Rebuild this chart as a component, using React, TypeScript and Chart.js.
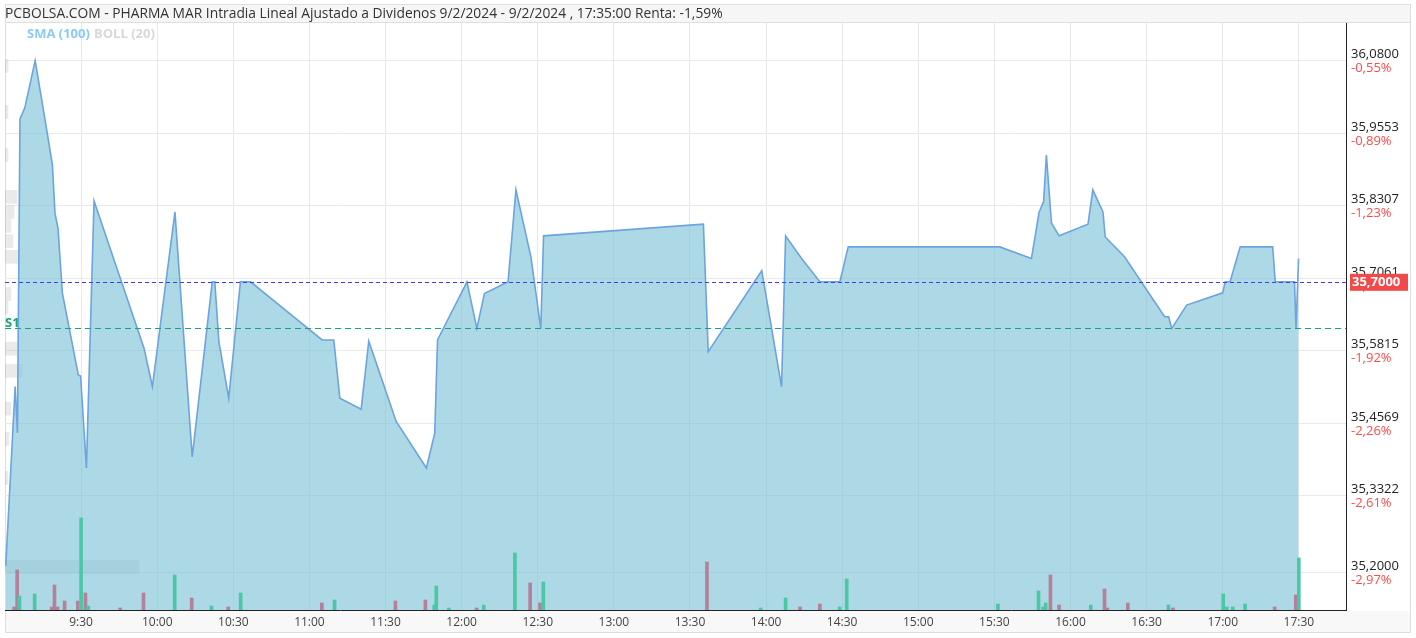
import React, { useEffect, useRef } from 'react';
import { Chart, registerables } from 'chart.js';

Chart.register(...registerables);

const FONT = '"Open Sans", sans-serif';

const titleText =
  'PCBOLSA.COM - PHARMA MAR Intradia Lineal Ajustado a Dividenos 9/2/2024 - 9/2/2024 , 17:35:00 Renta: -1,59%';
const legendSma = 'SMA (100)';
const legendBoll = 'BOLL (20)';
const supportLabel = 'S1';

// time in minutes since midnight
const priceTimes = [
  540.3, 544.0, 544.9, 545.9, 547.8, 551.9, 555.8, 558.7, 559.7, 560.9,
  562.6, 568.9, 569.8, 572.1, 575.1, 594.8, 598.1, 607.0, 613.8, 621.7,
  622.7, 624.3, 628.2, 632.8, 636.8, 665.0, 669.6, 672.0, 680.4, 683.4,
  694.2, 706.1, 709.4, 710.5, 722.1, 726.0, 729.0, 738.3, 741.4, 747.3,
  751.2, 752.3, 815.3, 817.2, 838.3, 846.1, 847.7, 854.0, 861.2, 869.1,
  872.4, 932.1, 944.6, 947.6, 949.4, 950.5, 952.5, 955.5, 966.9, 968.8,
  972.8, 973.7, 981.3, 997.1, 998.7, 999.9, 1005.8, 1020.0, 1021.0, 1022.9,
  1026.9, 1039.7, 1040.7, 1048.3, 1048.9, 1049.9,
];
const priceValues = [
  35.212, 35.52, 35.44, 35.98, 35.999, 36.08, 35.978, 35.901, 35.818, 35.792,
  35.681, 35.54, 35.538, 35.38, 35.839, 35.586, 35.52, 35.82, 35.399, 35.7,
  35.7, 35.597, 35.5, 35.7, 35.7, 35.6, 35.6, 35.5, 35.481, 35.598,
  35.46, 35.38, 35.44, 35.6, 35.7, 35.62, 35.68, 35.7, 35.858, 35.743,
  35.62, 35.779, 35.799, 35.58, 35.719, 35.52, 35.779, 35.74, 35.7, 35.7,
  35.76, 35.76, 35.74, 35.819, 35.838, 35.918, 35.801, 35.779, 35.799, 35.858,
  35.82, 35.777, 35.743, 35.64, 35.64, 35.62, 35.66, 35.681, 35.7, 35.7,
  35.76, 35.76, 35.7, 35.7, 35.62, 35.74,
];

const volumeTimes = [
  543.6, 544.8, 545.7, 551.7, 558.4, 559.5, 560.7, 563.5, 568.7, 570.0,
  571.7, 572.8, 585.4, 594.6, 606.9, 613.6, 621.4, 628.0, 632.9, 664.9,
  669.9, 693.9, 705.7, 709.2, 710.0, 715.0, 725.9, 728.7, 741.0, 747.0,
  750.9, 752.2, 816.7, 837.9, 847.7, 853.4, 861.2, 869.0, 871.8, 931.4,
  947.4, 949.2, 950.2, 952.1, 955.5, 968.0, 973.4, 974.5, 982.6, 998.6,
  1000.4, 1020.2, 1021.6, 1024.0, 1028.8, 1040.5, 1048.8, 1050.0,
];
const volumeValues = [
  150, 2000, 700, 800, 150, 1250, 150, 450, 450, 4600,
  850, 200, 100, 850, 1750, 600, 200, 150, 850, 350,
  500, 450, 500, 250, 1200, 100, 100, 250, 2850, 1350,
  350, 1400, 2400, 100, 600, 150, 300, 150, 1550, 300,
  950, 150, 350, 1750, 250, 250, 1050, 100, 350, 250,
  100, 800, 150, 150, 300, 150, 750, 2600,
];
const volumeUp = [
  false, false, true, true, false, false, false, false, false, true,
  false, true, false, false, true, false, true, false, true, false,
  true, false, false, true, true, true, false, true, true, false,
  false, true, false, true, true, false, false, true, true, true,
  true, true, true, false, false, true, false, false, false, true,
  false, true, true, true, true, false, false, true,
];

const profilePrices = [
  36.071, 35.992, 35.918, 35.846, 35.82, 35.796, 35.77, 35.743,
  35.679, 35.656, 35.585, 35.547, 35.482, 35.43, 35.363, 35.21,
];
const profileVolumes = [
  300, 300, 300, 1200, 900, 600, 800, 1400,
  600, 300, 1200, 1700, 600, 400, 300, 13400,
];

const xTickTimes = [570, 600, 630, 660, 690, 720, 750, 780, 810, 840, 870, 900, 930, 960, 990, 1020, 1050];
const xTickLabels = ['9:30', '10:00', '10:30', '11:00', '11:30', '12:00', '12:30', '13:00', '13:30', '14:00', '14:30', '15:00', '15:30', '16:00', '16:30', '17:00', '17:30'];
const yTickValues = [36.08, 35.9553, 35.8307, 35.7061, 35.5815, 35.4569, 35.3322, 35.2];
const yTickLabels = ['36,0800', '35,9553', '35,8307', '35,7061', '35,5815', '35,4569', '35,3322', '35,2000'];
const yTickPercents = ['-0,55%', '-0,89%', '-1,23%', '-1,57%', '-1,92%', '-2,26%', '-2,61%', '-2,97%'];

const xMin = 540;
const xMax = 1068.6;
const yMin = 35.1359;
const yMax = 36.1448;

const lastPrice = 35.7;
const lastPriceLabel = '35,7000';
const supportS1 = 35.62;

const overlayPlugin = {
  id: 'overlay',
  beforeDraw(chart: any) {
    const { ctx, width, height, chartArea } = chart;
    ctx.save();
    ctx.fillStyle = '#ffffff';
    ctx.fillRect(0, 0, width, height);
    ctx.fillStyle = '#f6f6f6';
    ctx.fillRect(5, 4, width - 10, chartArea.top - 4);
    ctx.fillStyle = '#f8f8f8';
    ctx.fillRect(5, chartArea.bottom + 1, width - 10, height - chartArea.bottom - 6);
    ctx.strokeStyle = '#dedede';
    ctx.lineWidth = 1;
    ctx.strokeRect(5.5, 4.5, width - 11, height - 10);
    ctx.beginPath();
    ctx.moveTo(5, chartArea.top - 0.5);
    ctx.lineTo(width - 5, chartArea.top - 0.5);
    ctx.stroke();
    ctx.fillStyle = '#333333';
    ctx.font = `13.8px ${FONT}`;
    ctx.textBaseline = 'middle';
    ctx.textAlign = 'left';
    ctx.fillText(titleText, 5, 14);
    ctx.restore();
  },
  afterDatasetsDraw(chart: any) {
    const { ctx, chartArea, scales } = chart;
    const y = scales.y;
    ctx.save();
    const yLast = Math.round(y.getPixelForValue(lastPrice)) + 0.5;
    ctx.strokeStyle = '#3d3df2';
    ctx.lineWidth = 1;
    ctx.setLineDash([4, 3]);
    ctx.beginPath();
    ctx.moveTo(chartArea.left, yLast);
    ctx.lineTo(chartArea.right, yLast);
    ctx.stroke();
    const yS1 = Math.round(y.getPixelForValue(supportS1)) + 0.5;
    ctx.strokeStyle = '#17a57a';
    ctx.setLineDash([6, 4]);
    ctx.beginPath();
    ctx.moveTo(chartArea.left, yS1);
    ctx.lineTo(chartArea.right, yS1);
    ctx.stroke();
    ctx.setLineDash([]);
    ctx.fillStyle = '#17a57a';
    ctx.font = `bold 13px ${FONT}`;
    ctx.textAlign = 'left';
    ctx.textBaseline = 'alphabetic';
    ctx.fillText(supportLabel, chartArea.left, yS1 - 2);
    ctx.font = `bold 13px ${FONT}`;
    ctx.textBaseline = 'middle';
    ctx.fillStyle = '#8ccaf3';
    ctx.fillText(legendSma, 27, 34);
    ctx.fillStyle = '#d8d8d8';
    ctx.fillText(legendBoll, 94, 34);
    ctx.restore();
  },
  afterDraw(chart: any) {
    const { ctx, chartArea, scales } = chart;
    const y = scales.y;
    ctx.save();
    ctx.font = `13px ${FONT}`;
    ctx.fillStyle = '#ff4a4a';
    ctx.textAlign = 'left';
    ctx.textBaseline = 'middle';
    yTickValues.forEach((v, i) => {
      ctx.fillText(yTickPercents[i], chartArea.right + 5, y.getPixelForValue(v) + 8);
    });
    const yLast = y.getPixelForValue(lastPrice);
    ctx.fillStyle = '#f24a4a';
    ctx.fillRect(chartArea.right + 4, yLast - 8, 58, 17);
    ctx.fillStyle = '#ffffff';
    ctx.font = `bold 13px ${FONT}`;
    ctx.fillText(lastPriceLabel, chartArea.right + 6, yLast + 1);
    ctx.restore();
  },
};

export default function App() {
  const ref = useRef<HTMLCanvasElement | null>(null);

  useEffect(() => {
    if (!ref.current) return;
    const maxVol = Math.max(...volumeValues);
    const maxProf = Math.max(...profileVolumes);
    const chart = new Chart(ref.current, {
      type: 'line',
      data: {
        datasets: [
          {
            type: 'bar',
            indexAxis: 'y',
            xAxisID: 'xProf',
            yAxisID: 'y',
            grouped: false,
            data: profilePrices.map((p, i) => ({ x: profileVolumes[i], y: p })),
            backgroundColor: 'rgba(128,128,128,0.17)',
            barThickness: 13,
            order: 3,
          } as any,
          {
            type: 'line',
            xAxisID: 'x',
            yAxisID: 'y',
            data: priceTimes.map((t, i) => ({ x: t, y: priceValues[i] })),
            borderColor: '#6ca4df',
            borderWidth: 1.6,
            backgroundColor: 'rgba(118,190,213,0.6)',
            fill: 'start',
            pointRadius: 0,
            tension: 0,
            order: 2,
          },
          {
            type: 'bar',
            xAxisID: 'x',
            yAxisID: 'yVol',
            grouped: false,
            data: volumeTimes.map((t, i) => ({ x: t, y: volumeValues[i] })),
            backgroundColor: volumeUp.map((u) => (u ? '#4cc7a6' : '#b3819a')),
            barThickness: 3,
            order: 1,
          } as any,
        ],
      },
      options: {
        animation: false,
        responsive: false,
        devicePixelRatio: 1,
        layout: { padding: { left: 5, top: 23, right: 5, bottom: 0 } },
        plugins: { legend: { display: false }, tooltip: { enabled: false }, title: { display: false } },
        scales: {
          x: {
            type: 'linear',
            position: 'bottom',
            offset: false,
            min: xMin,
            max: xMax,
            afterBuildTicks: (scale: any) => {
              scale.ticks = xTickTimes.map((v) => ({ value: v }));
            },
            afterFit: (scale: any) => {
              scale.height = 28;
            },
            ticks: {
              autoSkip: false,
              maxRotation: 0,
              padding: 5,
              color: '#444444',
              font: { family: FONT, size: 12 },
              callback: (_v: any, i: number) => xTickLabels[i],
            },
            grid: { color: '#e9e9e9', drawTicks: false, offset: false },
            border: { display: true, color: '#222222', width: 1 },
          },
          y: {
            type: 'linear',
            position: 'right',
            offset: false,
            min: yMin,
            max: yMax,
            afterBuildTicks: (scale: any) => {
              scale.ticks = yTickValues.map((v) => ({ value: v }));
            },
            afterFit: (scale: any) => {
              scale.width = 65;
            },
            ticks: {
              autoSkip: false,
              padding: 5,
              labelOffset: -6,
              color: '#222222',
              font: { family: FONT, size: 13 },
              callback: (_v: any, i: number) => yTickLabels[i],
            },
            grid: { color: '#e9e9e9', drawTicks: false, offset: false },
            border: { display: true, color: '#222222', width: 1 },
          },
          yVol: {
            type: 'linear',
            axis: 'y',
            display: false,
            offset: false,
            min: 0,
            max: maxVol * 6.38,
          },
          xProf: {
            type: 'linear',
            axis: 'x',
            display: false,
            offset: false,
            min: 0,
            max: maxProf * 10,
          },
        } as any,
      },
      plugins: [overlayPlugin],
    } as any);
    return () => chart.destroy();
  }, []);

  return (
    <div style={{ position: 'absolute', left: 0, top: 0, width: 1416, height: 638 }}>
      <canvas ref={ref} width={1416} height={638} style={{ display: 'block' }} />
    </div>
  );
}
